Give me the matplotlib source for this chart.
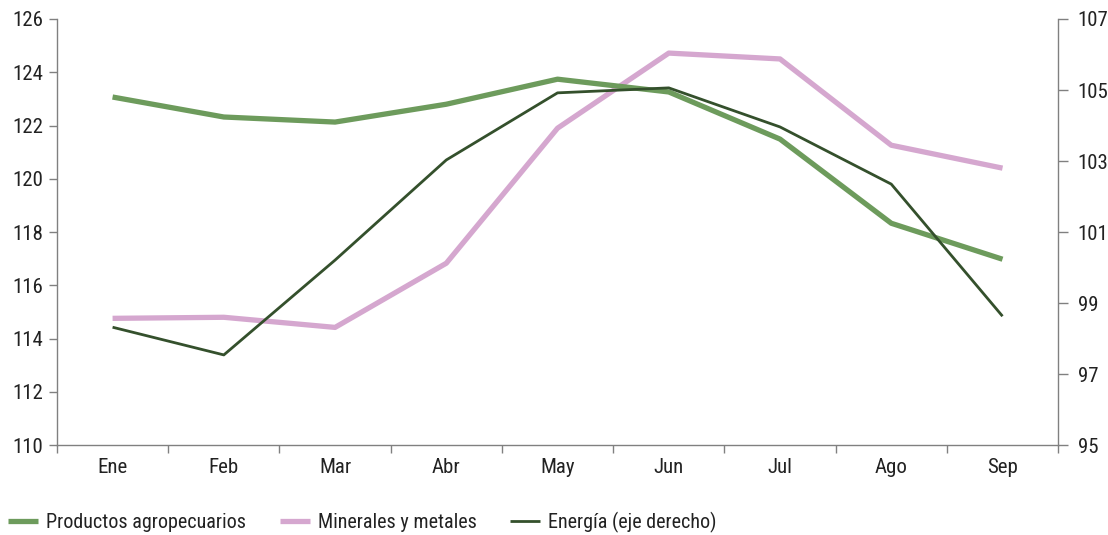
import matplotlib
matplotlib.use("Agg")
import matplotlib.pyplot as plt

months = ["Ene", "Feb", "Mar", "Abr", "May", "Jun", "Jul", "Ago", "Sep"]
agro = [123.07, 122.32, 122.13, 122.80, 123.74, 123.26, 121.49, 118.33, 116.98]
minerales = [114.76, 114.80, 114.42, 116.83, 121.90, 124.72, 124.50, 121.26, 120.40]
energia = [98.32, 97.54, 100.21, 103.03, 104.92, 105.06, 103.96, 102.35, 98.63]
left_ticks = [110, 112, 114, 116, 118, 120, 122, 124, 126]
right_ticks = [95, 97, 99, 101, 103, 105, 107]

plt.rcParams['font.family'] = ['Roboto Condensed', 'DejaVu Sans']
plt.rcParams['font.weight'] = 400
plt.rcParams['font.size'] = 14

c_agro = "#6d9b5c"
c_min = "#d5a7cf"
c_en = "#34502c"
axc = "#808080"
txtc = "#222222"
fs = 15

fig = plt.figure(figsize=(11.08, 5.35), dpi=100)
ax = fig.add_axes([0.0514, 0.168, 0.9036, 0.7965])
ax2 = ax.twinx()

x = [i + 0.5 for i in range(len(months))]
l1, = ax.plot(x, agro, color=c_agro, lw=3.8, solid_capstyle='butt', zorder=3)
l2, = ax.plot(x, minerales, color=c_min, lw=3.8, solid_capstyle='butt', zorder=2)
l3, = ax2.plot(x, energia, color=c_en, lw=2.0, solid_capstyle='butt')

ax.set_xlim(0, 9)
ax.set_ylim(110, 126)
ax.set_yticks(left_ticks)
ax2.set_ylim(95, 107)
ax2.set_yticks(right_ticks)

ax.set_xticks(range(10))
ax.set_xticklabels([])
ax.set_xticks(x, minor=True)
ax.set_xticklabels(months, minor=True)
ax.tick_params(axis='x', which='minor', length=0, pad=9, labelsize=fs, colors=txtc)
ax.tick_params(axis='x', which='major', length=6, color=axc, width=1)
ax.tick_params(axis='y', length=6, color=axc, width=1, labelsize=fs, labelcolor=txtc, pad=4)
ax2.tick_params(axis='y', length=7, color=axc, width=1, labelsize=fs, labelcolor=txtc, pad=7)

for a in (ax, ax2):
    a.spines['top'].set_visible(False)
    for s in ('left', 'right', 'bottom'):
        a.spines[s].set_color(axc)
        a.spines[s].set_linewidth(1)
ax.spines['right'].set_visible(False)
ax2.spines['left'].set_visible(False)
ax2.spines['bottom'].set_visible(False)

fig.legend([l1, l2, l3], ["Productos agropecuarios", "Minerales y metales", "Energía (eje derecho)"],
           loc='lower left', bbox_to_anchor=(-0.009, -0.03), ncol=3, frameon=False,
           fontsize=14.5, handlelength=1.5, handletextpad=0.4, columnspacing=1.65)
for t in fig.legends[0].get_texts():
    t.set_color(txtc)

fig.savefig("out.png", dpi=100)
